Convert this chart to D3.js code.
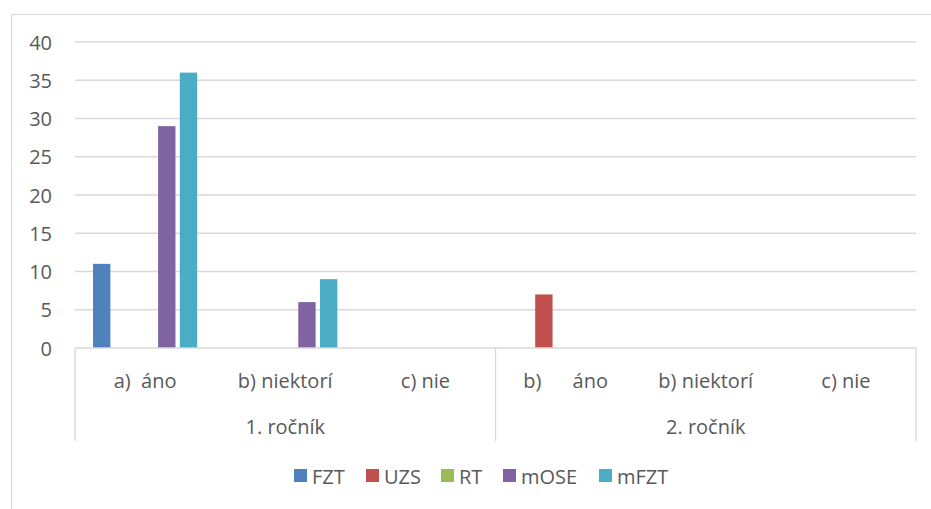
<!DOCTYPE html>
<html>
<head>
<meta charset="utf-8">
<script src="https://cdn.jsdelivr.net/npm/d3@7"></script>
<style>
  body { margin: 0; background: #fff; }
  text { font-family: "Open Sans", "Noto Sans", sans-serif; fill: #595959; }
</style>
</head>
<body>
<svg id="chart" width="931" height="509"></svg>
<script>
// data
const groups = ["1. ročník", "2. ročník"];
const categories = ["a)  áno", "b) niektorí", "c) nie", "b)      áno", "b) niektorí", "c) nie"];
const categoryGroup = [0, 0, 0, 1, 1, 1];
const seriesNames = ["FZT", "UZS", "RT", "mOSE", "mFZT"];
const seriesColors = ["#4F81BD", "#C0504D", "#9BBB59", "#8064A2", "#4BACC6"];
const FZT = [11, 0, 0, 0, 0, 0];
const UZS = [0, 0, 0, 7, 0, 0];
const RT = [0, 0, 0, 0, 0, 0];
const mOSE = [29, 6, 0, 0, 0, 0];
const mFZT = [36, 9, 0, 0, 0, 0];
const yTicks = [0, 5, 10, 15, 20, 25, 30, 35, 40];

const seriesValues = [FZT, UZS, RT, mOSE, mFZT];

const svg = d3.select("#chart");
const plotLeft = 75, plotRight = 916, plotTop = 42, plotBottom = 348, axisBottom = 441;
const fontSize = "20px";

// outer chart frame
svg.append("rect")
  .attr("x", 11.5).attr("y", 14.5)
  .attr("width", 940).attr("height", 520)
  .attr("fill", "none").attr("stroke", "#d9d9d9").attr("stroke-width", 1.2);

const x = d3.scaleBand().domain(d3.range(categories.length)).range([plotLeft, plotRight]);
const xs = d3.scaleBand().domain(d3.range(seriesNames.length))
  .range([18, x.bandwidth() - 18]).paddingInner(0.2);
const y = d3.scaleLinear().domain([0, 40]).range([plotBottom, plotTop]);

// gridlines
svg.append("g").selectAll("line").data(yTicks.filter(t => t > 0)).join("line")
  .attr("x1", plotLeft).attr("x2", plotRight)
  .attr("y1", d => y(d)).attr("y2", d => y(d))
  .attr("stroke", "#d9d9d9").attr("stroke-width", 1.3);

// y axis labels
svg.append("g").selectAll("text").data(yTicks).join("text")
  .attr("x", 52).attr("y", d => y(d))
  .attr("text-anchor", "end").attr("dominant-baseline", "central")
  .style("font-size", fontSize)
  .text(d => d);

// bars
seriesValues.forEach((vals, s) => {
  svg.append("g").selectAll("rect").data(vals).join("rect")
    .attr("x", (d, i) => x(i) + xs(s))
    .attr("width", xs.bandwidth())
    .attr("y", d => y(d))
    .attr("height", d => y(0) - y(d))
    .attr("fill", seriesColors[s]);
});

// category axis
const ax = svg.append("g").attr("stroke", "#d9d9d9").attr("stroke-width", 1.3);
ax.append("line").attr("x1", plotLeft).attr("x2", plotRight).attr("y1", plotBottom).attr("y2", plotBottom);
const bounds = [0, 3, 6].map(i => i < categories.length ? x(i) : plotRight);
ax.selectAll("line.sep").data(bounds).join("line").attr("class", "sep")
  .attr("x1", d => d).attr("x2", d => d)
  .attr("y1", plotBottom).attr("y2", axisBottom);

svg.append("g").selectAll("text").data(categories).join("text")
  .attr("x", (d, i) => x(i) + x.bandwidth() / 2)
  .attr("y", 380)
  .attr("text-anchor", "middle").attr("dominant-baseline", "central")
  .style("font-size", fontSize).style("white-space", "pre")
  .text(d => d);

svg.append("g").selectAll("text").data(groups).join("text")
  .attr("x", (d, g) => {
    const idx = categoryGroup.map((c, i) => c === g ? i : -1).filter(i => i >= 0);
    return (x(idx[0]) + x(idx[idx.length - 1]) + x.bandwidth()) / 2;
  })
  .attr("y", 426)
  .attr("text-anchor", "middle").attr("dominant-baseline", "central")
  .style("font-size", fontSize)
  .text(d => d);

// legend
const legendX = [294, 366, 441, 503, 599];
const lg = svg.append("g").selectAll("g").data(seriesNames).join("g")
  .attr("transform", (d, i) => `translate(${legendX[i]},476)`);
lg.append("rect").attr("x", 0).attr("y", -7).attr("width", 13).attr("height", 13)
  .attr("fill", (d, i) => seriesColors[i]);
lg.append("text").attr("x", 18).attr("y", 0)
  .attr("dominant-baseline", "central").style("font-size", fontSize)
  .text(d => d);
</script>
</body>
</html>
